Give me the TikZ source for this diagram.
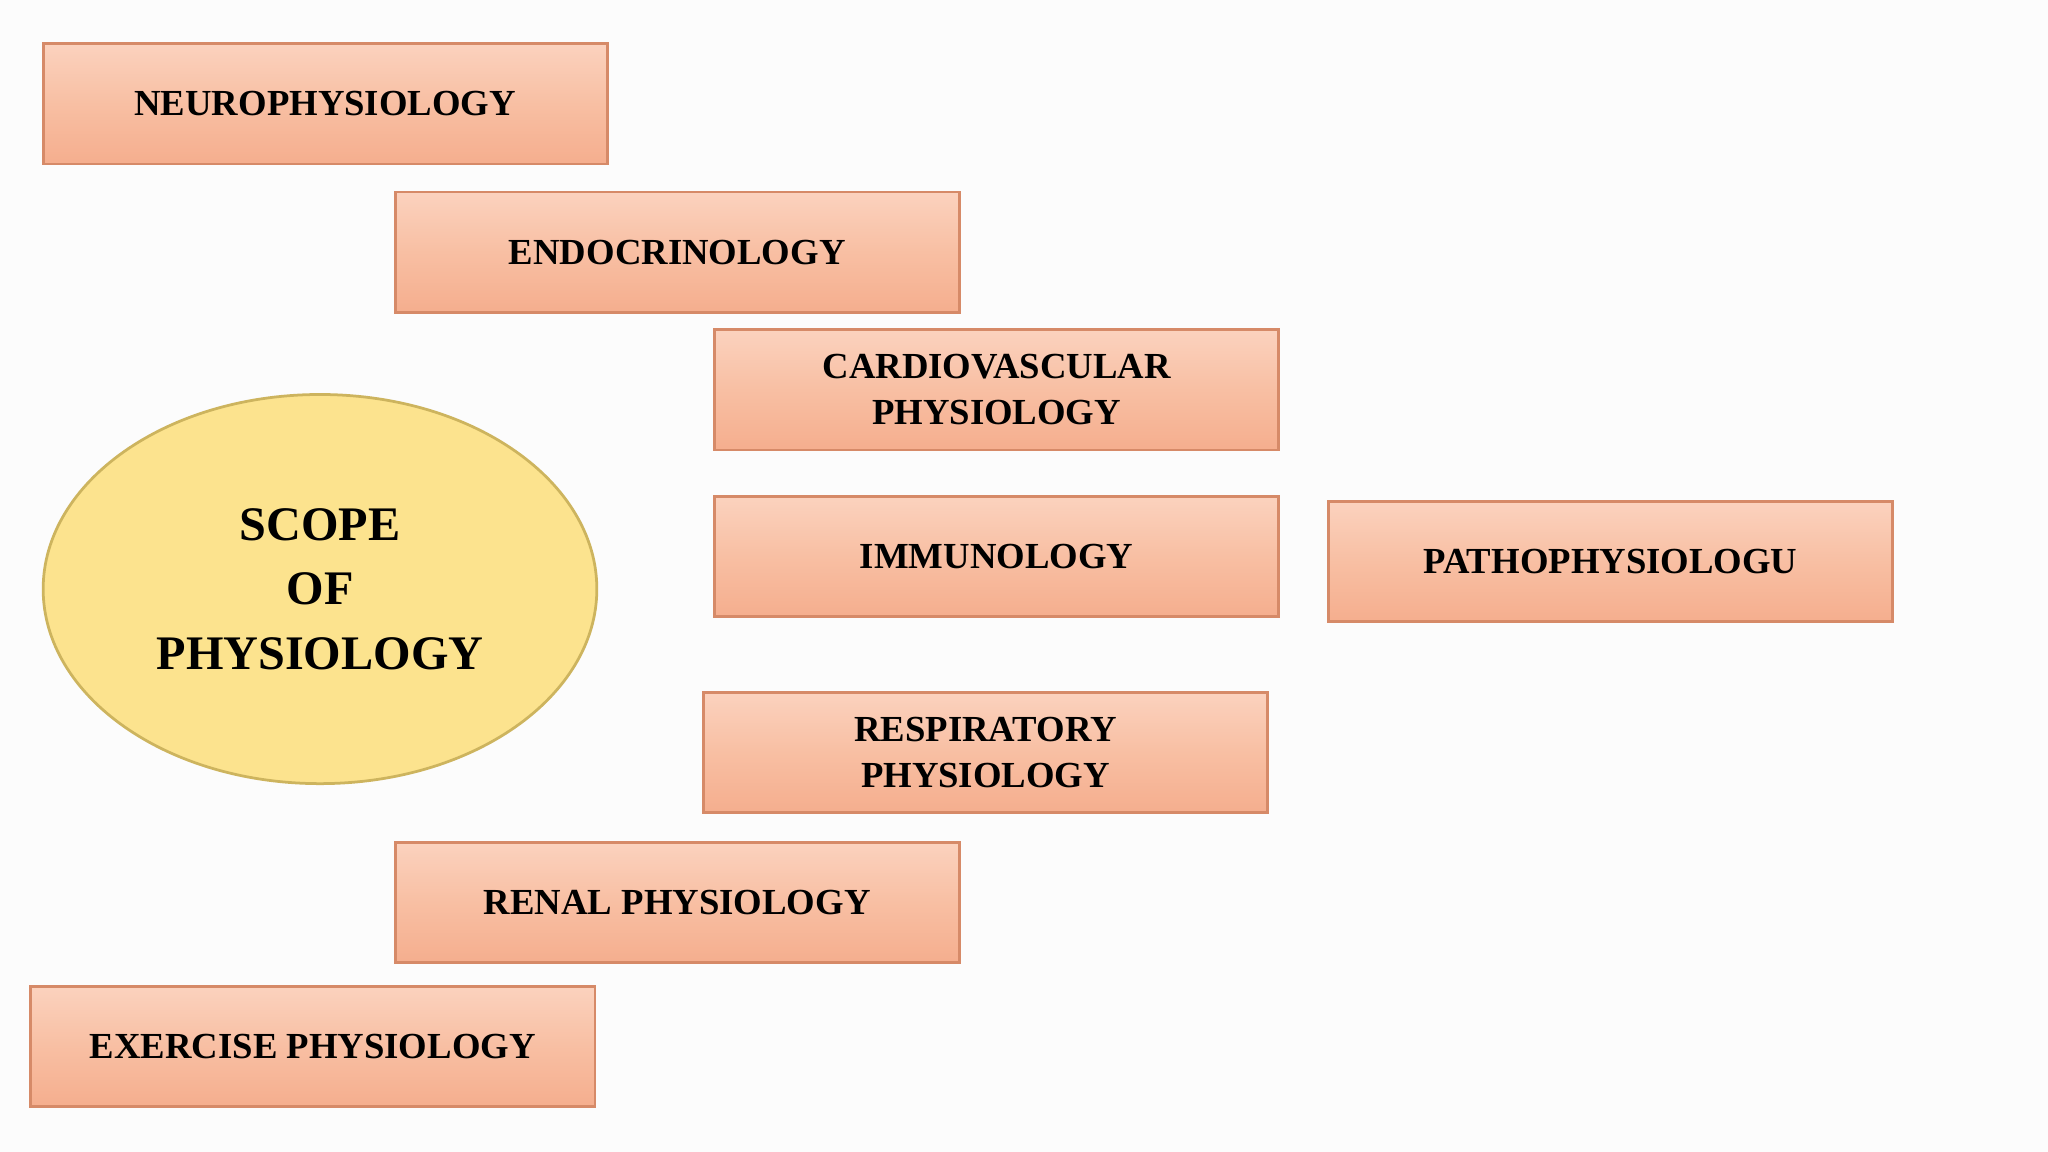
\documentclass[tikz,border=0pt]{standalone}
\usepackage{fontspec}
\setmainfont{Liberation Serif}
\usetikzlibrary{positioning}
\definecolor{bfill}{HTML}{F8BFA3}
\definecolor{btop}{HTML}{FBD2BE}
\definecolor{bbot}{HTML}{F5AE8E}
\definecolor{bdraw}{HTML}{D68A68}
\definecolor{efill}{HTML}{FCE38E}
\definecolor{edraw}{HTML}{CDB45E}
\tikzset{
 topic/.style={draw=bdraw,line width=1.2pt,top color=btop,bottom color=bbot,middle color=bfill,
   minimum width=8.64cm,minimum height=1.84cm,align=center,font=\bfseries\fontsize{16}{20}\selectfont,inner sep=0pt},
 hub/.style={ellipse,draw=edraw,line width=1.2pt,fill=efill,minimum width=8.48cm,minimum height=5.96cm,
   align=center,font=\bfseries\fontsize{21}{28}\selectfont}
}
\usetikzlibrary{shapes.geometric}
\begin{document}
\begin{tikzpicture}[x=0.02cm,y=-0.02cm]
\fill[white!98!gray] (0,0) rectangle (1568,882);
\useasboundingbox (0,0) rectangle (1568,882);
\node[topic] (neuro) at (249,79.5) {NEUROPHYSIOLOGY};
\node[topic] (endo) at (518.5,193) {ENDOCRINOLOGY};
\node[topic] (cardio) at (763,298.5) {CARDIOVASCULAR\\PHYSIOLOGY};
\node[topic] (immuno) at (763,426) {IMMUNOLOGY};
\node[topic] (patho) at (1233,430) {PATHOPHYSIOLOGU};
\node[topic] (resp) at (754.5,576) {RESPIRATORY\\PHYSIOLOGY};
\node[topic] (renal) at (518.5,691) {RENAL PHYSIOLOGY};
\node[topic] (exer) at (239.5,801) {EXERCISE PHYSIOLOGY};
\node[hub] (scope) at (245,451) {SCOPE\\OF\\PHYSIOLOGY};
\end{tikzpicture}
\end{document}
